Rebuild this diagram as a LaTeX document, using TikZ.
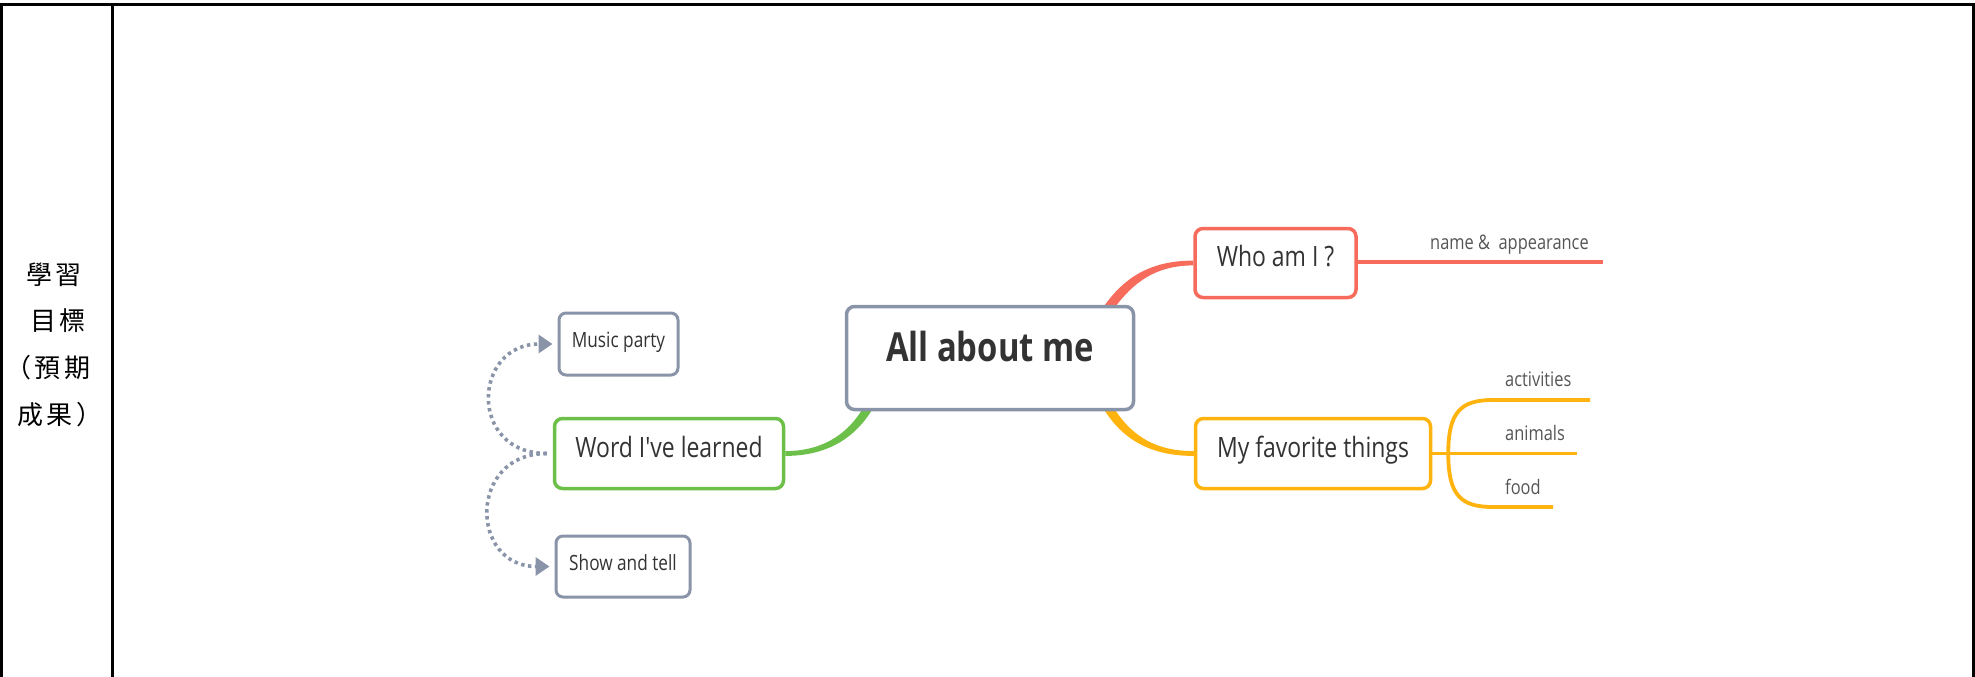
\documentclass[tikz,border=0pt]{standalone}
\usepackage{fontspec}
\usetikzlibrary{arrows.meta,calc,backgrounds}
\newfontfamily\mmfont{Open Sans}[FakeStretch=0.82]
\newfontfamily\cjkfont{Noto Sans CJK TC}
\definecolor{mmgray}{HTML}{8A94A8}
\definecolor{mmgreen}{HTML}{6CC04A}
\definecolor{mmred}{HTML}{F66B5C}
\definecolor{mmorange}{HTML}{FFB30F}
\definecolor{mmtext}{HTML}{333333}
\definecolor{mmlabel}{HTML}{555555}
\tikzset{
  frameline/.style={line width=3pt, black},
  mmbox/.style={rounded corners=8pt, fill=white, line width=3.5pt, inner sep=0pt,
    text=mmtext, text height=0.72em, text depth=0pt, font=\mmfont},
  bigtxt/.style={font=\mmfont\bfseries\fontsize{40pt}{46pt}\selectfont},
  midtxt/.style={font=\mmfont\fontsize{28pt}{32pt}\selectfont},
  smalltxt/.style={font=\mmfont\fontsize{21pt}{25pt}\selectfont},
  lbl/.style={anchor=base west, inner sep=0pt, text=mmlabel, font=\mmfont\fontsize{20pt}{24pt}\selectfont},
  cjk/.style={inner sep=0pt, text=black, font=\cjkfont\fontsize{26pt}{30pt}\selectfont},
  dotarrow/.style={mmgray, line width=3.6pt, dash pattern=on 3.4pt off 3.6pt,
    shorten <=6pt, shorten >=5pt, -{Triangle[length=14pt,width=18pt]}},
  branch/.style={line width=3.8pt, mmorange},
}
\begin{document}
\begin{tikzpicture}[x=1pt,y=-1pt]
\useasboundingbox (0,0) rectangle (1975,677);

% table frame
\coordinate (tl) at (0,5);
\coordinate (tr) at (1975,5);
\coordinate (l1) at (1.5,4);
\coordinate (l2) at (1.5,677);
\coordinate (d1) at (112,4);
\coordinate (d2) at (112,677);
\coordinate (r1) at (1973,4);
\coordinate (r2) at (1973,677);
\draw[frameline] (tl) -- (tr);
\draw[frameline] (l1) -- (l2);
\draw[frameline] (d1) -- (d2);
\draw[frameline] (r1) -- (r2);

% left cell text
\node[cjk] (c1) at (54,275) {學\kern3.5pt 習};
\node[cjk] (c2) at (58,321) {目\kern3.5pt 標};
\node[cjk] (c3) at (48,368) {（\kern3.5pt 預\kern3.5pt 期};
\node[cjk] (c4) at (60,415) {成\kern3.5pt 果\kern3.5pt ）};

% mind map boxes
\node[mmbox, draw=mmgray, bigtxt, minimum width=287pt, minimum height=103pt] (all) at (990,358) {All about me};
\node[mmbox, draw=mmred, midtxt, minimum width=161pt, minimum height=69pt] (who) at (1275.5,263) {Who am I ?};
\node[mmbox, draw=mmorange, midtxt, minimum width=235pt, minimum height=70pt] (fav) at (1313,453.5) {My favorite things};
\node[mmbox, draw=mmgreen, midtxt, minimum width=229pt, minimum height=70pt] (word) at (669,453.5) {Word I've learned};
\node[mmbox, draw=mmgray, line width=3pt, rounded corners=7pt, smalltxt, minimum width=119pt, minimum height=62pt] (music) at (618.5,344) {Music party};
\node[mmbox, draw=mmgray, line width=3pt, rounded corners=7pt, smalltxt, minimum width=134pt, minimum height=61pt] (show) at (623,566.5) {Show and tell};

% tapered main connectors (behind boxes)
\begin{scope}[on background layer]
\fill[mmred] ($(all.north east)+(-35,7)$)
  .. controls ($(who.west)+(-73,18)$) and ($(who.west)+(-47,-2.4)$) .. ($(who.west)+(0,-2.4)$)
  -- ($(who.west)+(0,2.4)$)
  .. controls ($(who.west)+(-43,2.4)$) and ($(who.west)+(-65,25)$) .. ($(all.north east)+(-25,9)$) -- cycle;
\fill[mmorange] ($(all.south east)+(-23,-6)$)
  .. controls ($(fav.west)+(-62,-15.5)$) and ($(fav.west)+(-36,-2.4)$) .. ($(fav.west)+(0,-2.4)$)
  -- ($(fav.west)+(0,2.4)$)
  .. controls ($(fav.west)+(-40,2.4)$) and ($(fav.west)+(-70,-11.5)$) .. ($(all.south east)+(-32,-3)$) -- cycle;
\fill[mmgreen] ($(all.south west)+(20,-6)$)
  .. controls ($(word.east)+(61,-15.5)$) and ($(word.east)+(33,-2.4)$) .. ($(word.east)+(0,-2.4)$)
  -- ($(word.east)+(0,2.4)$)
  .. controls ($(word.east)+(37,2.4)$) and ($(word.east)+(69,-11.5)$) .. ($(all.south west)+(30,-6)$) -- cycle;
\end{scope}

% who branch
\coordinate (nameend) at (1603,262);
\draw[mmred, line width=4.2pt] (who.east |- nameend) -- (nameend);
\node[lbl] (lname) at (1430,249) {name \&~ appearance};

% favorite things branches
\coordinate (split) at ($(fav.east)+(16,0)$);
\coordinate (acts) at (1493,400);
\coordinate (acte) at (1590,400);
\coordinate (anie) at (1577,453.5);
\coordinate (foods) at (1493,507);
\coordinate (foode) at (1553,507);
\draw[branch] (fav.east) -- (split);
\draw[branch] (split) .. controls +(0,-42) and +(-32,0) .. (acts) -- (acte);
\draw[branch] (split) -- (anie);
\draw[branch] (split) .. controls +(0,42) and +(-32,0) .. (foods) -- (foode);
\node[lbl] (lact) at (1505,386) {activities};
\node[lbl] (lani) at (1505,440) {animals};
\node[lbl] (lfood) at (1505,494) {food};

% dotted arrows
\draw[dotarrow] (word.west) .. controls +(-85,0) and +(-85,0) .. (music.west);
\draw[dotarrow] (word.west) .. controls +(-85,0) and +(-85,0) .. (show.west);
\end{tikzpicture}
\end{document}
